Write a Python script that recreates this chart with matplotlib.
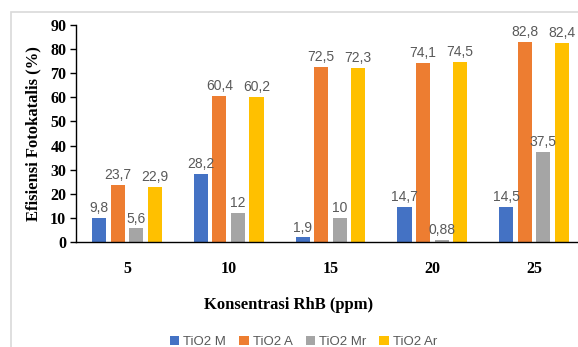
import matplotlib.pyplot as plt
import numpy as np

# Konsentrasi RhB (ppm) and photocatalytic efficiency per sample
concentrations = ['5', '10', '15', '20', '25']
series_names = ['TiO2 M', 'TiO2 A', 'TiO2 Mr', 'TiO2 Ar']
tio2_m = [9.8, 28.2, 1.9, 14.7, 14.5]
tio2_a = [23.7, 60.4, 72.5, 74.1, 82.8]
tio2_mr = [5.6, 12, 10, 0.88, 37.5]
tio2_ar = [22.9, 60.2, 72.3, 74.5, 82.4]
colors = ['#4472C4', '#ED7D31', '#A5A5A5', '#FFC000']

fig = plt.figure(figsize=(5.78, 3.47), dpi=100)
fig.patch.set_facecolor('white')

# thin frame around the chart area
fig.add_artist(plt.Rectangle((11 / 578, -0.1), 1.0, 1.1 - 12 / 347,
                             transform=fig.transFigure, fill=False,
                             edgecolor='#D9D9D9', linewidth=1.2))

# axes extends past the right edge of the figure
left, right = 76 / 578, 585 / 578
bottom, top = 1 - 242 / 347, 1 - 25 / 347
ax = fig.add_axes([left, bottom, right - left, top - bottom])

x = np.arange(len(concentrations))
width = 0.138
step = 0.182
all_series = [tio2_m, tio2_a, tio2_mr, tio2_ar]
for i, (vals, name, c) in enumerate(zip(all_series, series_names, colors)):
    pos = x + (i - 1.5) * step
    bars = ax.bar(pos, vals, width, color=c, label=name, zorder=2)
    for xp, v in zip(pos, vals):
        ax.text(xp, v + 1.2, f'{v:g}'.replace('.', ','), ha='center',
                va='bottom', fontsize=10, color='#595959',
                family='Liberation Sans')

ax.set_xlim(-0.5, len(concentrations) - 0.5)
ax.set_ylim(0, 90)
ax.set_yticks(range(0, 91, 10))
ax.set_xticks(x)
ax.set_xticklabels(concentrations)

for lab in ax.get_yticklabels() + ax.get_xticklabels():
    lab.set_family('Liberation Serif')
    lab.set_fontweight('bold')
    lab.set_fontsize(11.5)
    lab.set_color('black')

ax.tick_params(axis='y', length=4, width=1, direction='out', pad=3)
ax.tick_params(axis='x', length=0, pad=14)

for s in ['top', 'right']:
    ax.spines[s].set_visible(False)
ax.spines['left'].set_linewidth(1)
ax.spines['bottom'].set_linewidth(1)

ax.set_ylabel('Efisiensi Fotokatalis (%)', family='Liberation Serif',
              fontweight='bold', fontsize=12, labelpad=6)

fig.text(0.5, 1 - 305 / 347, 'Konsentrasi RhB (ppm)', ha='center',
         va='center', family='Liberation Serif', fontweight='bold',
         fontsize=12)

handles, labels = ax.get_legend_handles_labels()
fig.legend(handles, labels, loc='center', bbox_to_anchor=(0.525, 1 - 342 / 347),
           ncol=4, frameon=False, handlelength=0.7,
           handleheight=0.7, handletextpad=0.3, columnspacing=1.0,
           prop={'family': 'Liberation Sans', 'size': 9.5},
           labelcolor='#595959')

fig.savefig('out.png', dpi=100)
